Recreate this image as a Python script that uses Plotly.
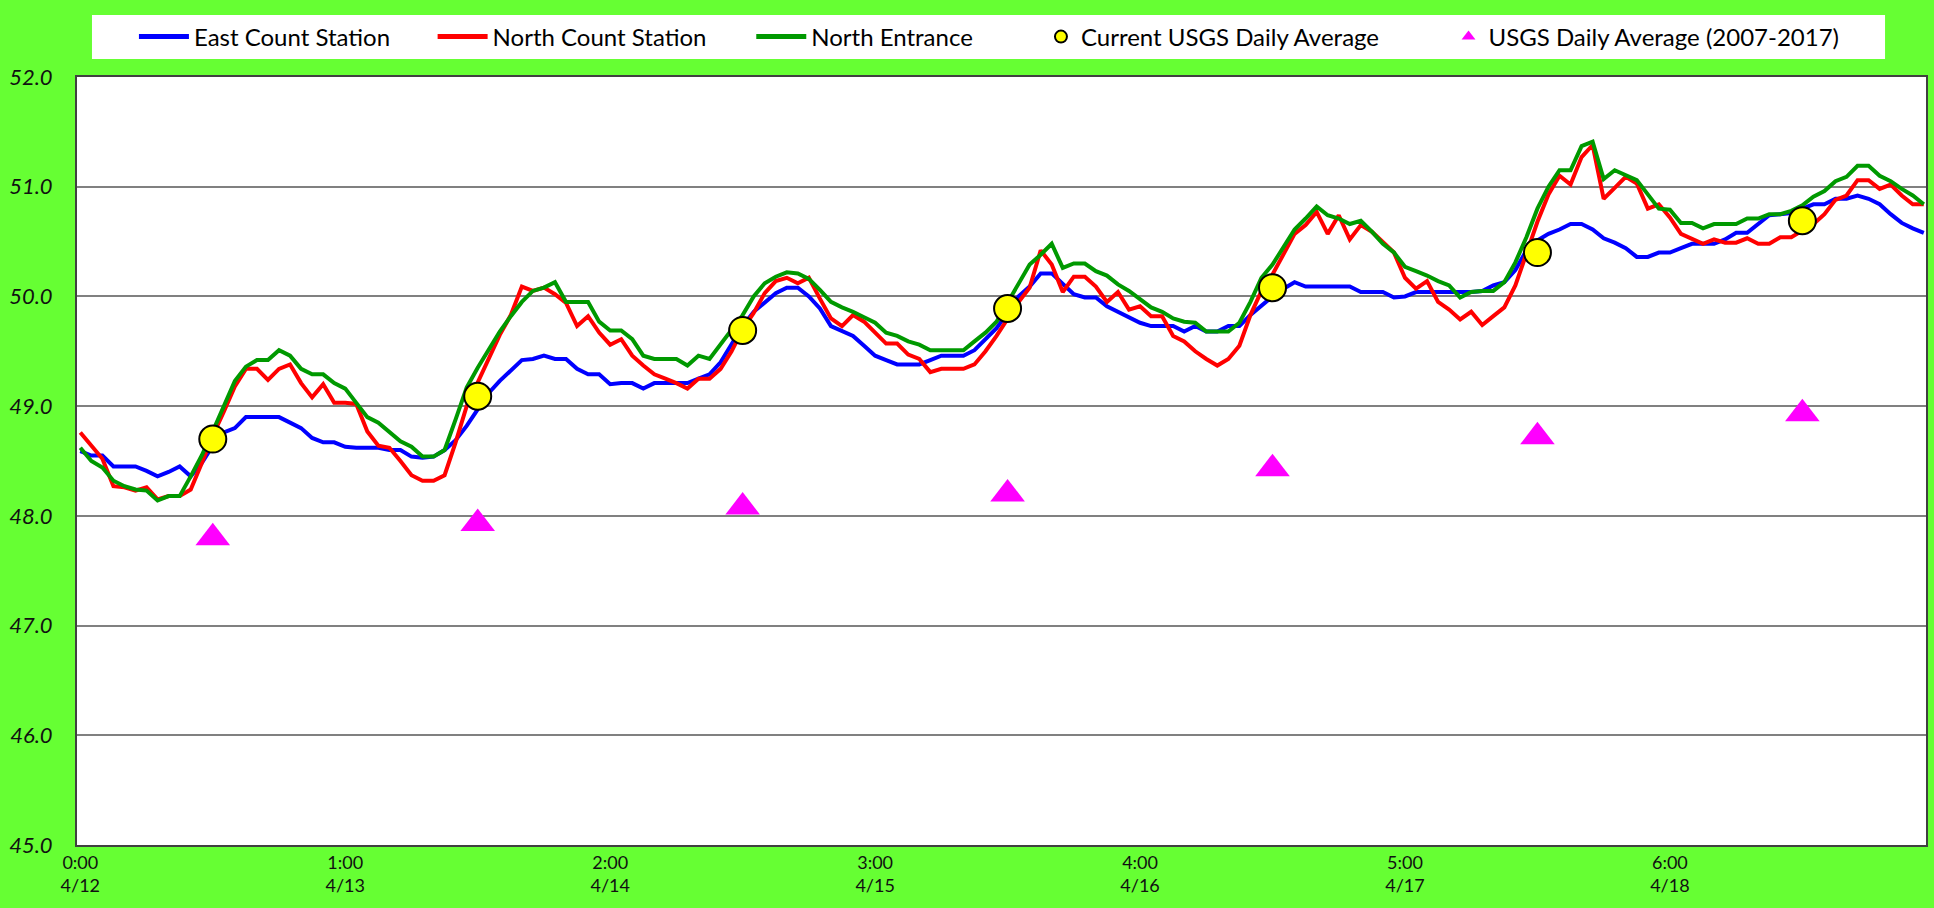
import plotly.graph_objects as go

# Hourly readings, 0:00 4/12 through 23:00 4/18
east_count_station = [
    48.59, 48.55, 48.55, 48.45, 48.45, 48.45, 48.41, 48.36, 48.40, 48.45, 48.36, 48.48,
    48.64, 48.76, 48.80, 48.90, 48.90, 48.90, 48.90, 48.85, 48.80, 48.71, 48.67, 48.67,
    48.63, 48.62, 48.62, 48.62, 48.60, 48.60, 48.54, 48.53, 48.54, 48.60, 48.69, 48.82,
    48.97, 49.12, 49.23, 49.33, 49.42, 49.43, 49.46, 49.43, 49.43, 49.34, 49.29, 49.29,
    49.20, 49.21, 49.21, 49.16, 49.21, 49.21, 49.21, 49.21, 49.25, 49.29, 49.40, 49.56,
    49.73, 49.86, 49.95, 50.03, 50.08, 50.08, 50.00, 49.89, 49.73, 49.68, 49.64, 49.55,
    49.46, 49.42, 49.38, 49.38, 49.38, 49.42, 49.46, 49.46, 49.46, 49.51, 49.61, 49.71,
    49.85, 50.00, 50.09, 50.21, 50.21, 50.11, 50.02, 49.99, 49.99, 49.91, 49.86, 49.82,
    49.76, 49.73, 49.73, 49.73, 49.68, 49.73, 49.68, 49.68, 49.73, 49.73, 49.83, 49.92,
    50.00, 50.07, 50.13, 50.09, 50.09, 50.09, 50.09, 50.09, 50.04, 50.04, 50.04, 49.99,
    50.00, 50.04, 50.04, 50.04, 50.04, 50.04, 50.04, 50.05, 50.10, 50.13, 50.24, 50.42,
    50.51, 50.57, 50.61, 50.66, 50.66, 50.61, 50.53, 50.49, 50.44, 50.36, 50.36, 50.40,
    50.40, 50.44, 50.48, 50.48, 50.48, 50.52, 50.58, 50.58, 50.66, 50.74, 50.75, 50.76,
    50.80, 50.84, 50.84, 50.89, 50.89, 50.92, 50.89, 50.84, 50.75, 50.67, 50.62, 50.58,
]

north_count_station = [
    48.76, 48.64, 48.52, 48.27, 48.26, 48.23, 48.26, 48.15, 48.18, 48.18, 48.24, 48.48,
    48.73, 48.95, 49.18, 49.34, 49.34, 49.24, 49.34, 49.38, 49.21, 49.08, 49.20, 49.03,
    49.03, 49.02, 48.77, 48.64, 48.62, 48.50, 48.37, 48.32, 48.32, 48.37, 48.67, 49.00,
    49.21, 49.43, 49.65, 49.83, 50.09, 50.05, 50.08, 50.02, 49.94, 49.73, 49.82, 49.67,
    49.56, 49.61, 49.46, 49.37, 49.29, 49.25, 49.21, 49.16, 49.25, 49.25, 49.34, 49.50,
    49.70, 49.85, 50.03, 50.14, 50.17, 50.12, 50.17, 49.98, 49.80, 49.73, 49.83, 49.77,
    49.67, 49.57, 49.57, 49.47, 49.43, 49.31, 49.34, 49.34, 49.34, 49.38, 49.50, 49.64,
    49.80, 49.95, 50.08, 50.42, 50.29, 50.04, 50.18, 50.18, 50.09, 49.95, 50.04, 49.88,
    49.91, 49.82, 49.82, 49.64, 49.59, 49.50, 49.43, 49.37, 49.43, 49.55, 49.83, 50.05,
    50.20, 50.38, 50.57, 50.65, 50.77, 50.57, 50.74, 50.52, 50.65, 50.59, 50.50, 50.40,
    50.17, 50.07, 50.14, 49.95, 49.88, 49.79, 49.86, 49.74, 49.82, 49.90, 50.10, 50.40,
    50.68, 50.93, 51.10, 51.02, 51.27, 51.38, 50.89, 50.99, 51.09, 51.03, 50.80, 50.84,
    50.72, 50.57, 50.52, 50.48, 50.52, 50.49, 50.49, 50.53, 50.48, 50.48, 50.54, 50.54,
    50.60, 50.66, 50.75, 50.88, 50.92, 51.06, 51.06, 50.98, 51.02, 50.92, 50.84, 50.84,
]

north_entrance = [
    48.62, 48.50, 48.44, 48.32, 48.27, 48.24, 48.23, 48.14, 48.18, 48.18, 48.36, 48.55,
    48.77, 49.00, 49.23, 49.36, 49.42, 49.42, 49.51, 49.46, 49.34, 49.29, 49.29, 49.21,
    49.16, 49.03, 48.90, 48.85, 48.76, 48.68, 48.63, 48.54, 48.54, 48.60, 48.88, 49.17,
    49.35, 49.52, 49.68, 49.82, 49.95, 50.05, 50.08, 50.13, 49.95, 49.95, 49.95, 49.77,
    49.69, 49.69, 49.61, 49.46, 49.43, 49.43, 49.43, 49.37, 49.46, 49.43, 49.56, 49.70,
    49.83, 50.00, 50.12, 50.18, 50.22, 50.21, 50.16, 50.06, 49.95, 49.90, 49.86, 49.81,
    49.76, 49.67, 49.64, 49.59, 49.56, 49.51, 49.51, 49.51, 49.51, 49.59, 49.67, 49.77,
    49.94, 50.11, 50.29, 50.38, 50.48, 50.26, 50.30, 50.30, 50.23, 50.19, 50.11, 50.05,
    49.98, 49.90, 49.86, 49.80, 49.77, 49.76, 49.68, 49.68, 49.68, 49.76, 49.95, 50.17,
    50.29, 50.45, 50.61, 50.71, 50.82, 50.74, 50.71, 50.66, 50.69, 50.59, 50.48, 50.40,
    50.27, 50.23, 50.19, 50.14, 50.10, 49.99, 50.04, 50.05, 50.05, 50.13, 50.31, 50.54,
    50.80, 51.00, 51.15, 51.15, 51.37, 51.41, 51.07, 51.15, 51.10, 51.06, 50.93, 50.80,
    50.79, 50.67, 50.67, 50.62, 50.66, 50.66, 50.66, 50.71, 50.71, 50.75, 50.75, 50.78,
    50.83, 50.91, 50.96, 51.05, 51.09, 51.19, 51.19, 51.10, 51.05, 50.98, 50.92, 50.84,
]

hours = list(range(len(east_count_station)))

# Daily averages plotted at noon of each day
daily_hours = [12, 36, 60, 84, 108, 132, 156]
current_usgs_avg = [48.70, 49.09, 49.69, 49.89, 50.08, 50.40, 50.69]
usgs_avg_2007_2017 = [47.80, 47.93, 48.08, 48.20, 48.43, 48.72, 48.93]

tick_hours = [0, 24, 48, 72, 96, 120, 144]
tick_labels = ["0:00<br>4/12", "1:00<br>4/13", "2:00<br>4/14", "3:00<br>4/15",
               "4:00<br>4/16", "5:00<br>4/17", "6:00<br>4/18"]

FONT = "Lato"
W, H = 1934, 908
ML, MR, MT, MB = 77, 6, 77, 63
PW, PH = W - ML - MR, H - MT - MB


def px_to_paper_x(px):
    return (px - ML) / PW


def px_to_paper_y(py):
    return (H - MB - py) / PH


fig = go.Figure()
fig.add_trace(go.Scatter(x=hours, y=east_count_station, mode="lines", name="East Count Station",
                         line=dict(color="#0000ff", width=4), legend="legend"))
fig.add_trace(go.Scatter(x=hours, y=north_count_station, mode="lines", name="North Count Station",
                         line=dict(color="#ff0000", width=4), legend="legend2"))
fig.add_trace(go.Scatter(x=hours, y=north_entrance, mode="lines", name="North Entrance",
                         line=dict(color="#009900", width=4), legend="legend3"))
fig.add_trace(go.Scatter(x=daily_hours, y=current_usgs_avg, mode="markers", name="Current USGS Daily Average",
                         marker=dict(symbol="circle", size=27, color="#ffff00",
                                     line=dict(color="#000000", width=2)), legend="legend4"))
fig.add_trace(go.Scatter(x=daily_hours, y=usgs_avg_2007_2017, mode="markers", name="USGS Daily Average (2007-2017)",
                         marker=dict(symbol="triangle-up", size=30, color="#ff00ff",
                                     line=dict(width=0)), legend="legend5"))

# white legend band
fig.add_shape(type="rect", xref="paper", yref="paper",
              x0=px_to_paper_x(92), x1=px_to_paper_x(1887),
              y0=px_to_paper_y(59), y1=px_to_paper_y(15),
              fillcolor="#ffffff", line=dict(width=0), layer="below")

legend_text_starts = [194, 493, 812, 1082, 1490]
legend_item_widths = [50, 50, 50, 30, 30]
legend_common = dict(orientation="h", yanchor="middle", y=px_to_paper_y(37), xanchor="left",
                     bgcolor="rgba(0,0,0,0)", borderwidth=0, itemsizing="constant",
                     font=dict(family=FONT, size=24, color="#000000"))
legend_layout = {}
for i, (tx, iw) in enumerate(zip(legend_text_starts, legend_item_widths)):
    key = "legend" if i == 0 else f"legend{i+1}"
    legend_layout[key] = dict(legend_common, x=px_to_paper_x(tx - iw - 10), itemwidth=iw)

fig.update_layout(
    width=W, height=H,
    margin=dict(l=ML, r=MR, t=MT, b=MB),
    paper_bgcolor="#66ff33",
    plot_bgcolor="#ffffff",
    font=dict(family=FONT, color="#000000"),
    showlegend=True,
    **legend_layout,
    xaxis=dict(range=[-0.3, 167.2], tickmode="array", tickvals=tick_hours, ticktext=tick_labels,
               showgrid=False, zeroline=False, showline=True, mirror=True,
               linecolor="#404040", linewidth=2, ticks="",
               tickfont=dict(family=FONT, size=18, color="#111111")),
    yaxis=dict(range=[45, 52], dtick=1, tickformat=".1f", showgrid=True, gridcolor="#808080",
               gridwidth=1.5, zeroline=False, showline=True, mirror=True,
               linecolor="#404040", linewidth=2, ticks="", ticklabelstandoff=18,
               tickfont=dict(family=FONT, size=22, style="italic", color="#111111")),
)

fig.write_html("out.html", config={"displayModeBar": False},
               post_script="document.body.style.margin='0';document.body.style.overflow='hidden';")
